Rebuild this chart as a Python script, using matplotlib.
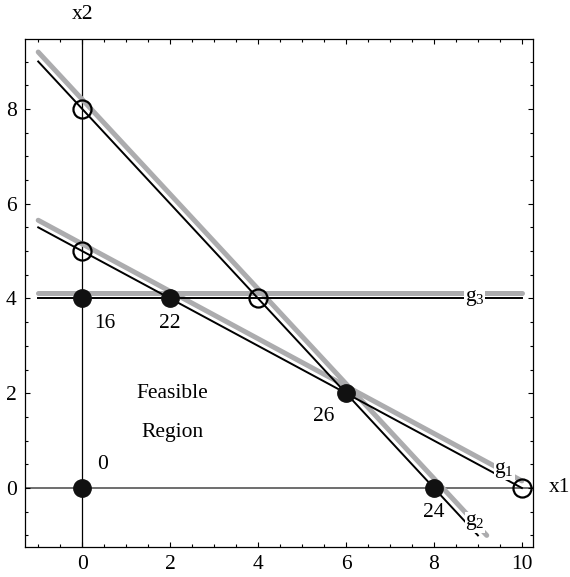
import matplotlib
matplotlib.use('Agg')
import matplotlib.pyplot as plt
from matplotlib.ticker import MultipleLocator

plt.rcParams['font.family'] = ['Liberation Serif', 'DejaVu Serif']
plt.rcParams['mathtext.fontset'] = 'custom'
plt.rcParams['mathtext.rm'] = 'Liberation Serif'
plt.rcParams['mathtext.it'] = 'Liberation Serif:italic'

# constraint lines (black) and their grey shading, as end points
g1_x = [-1, 10]
g1_y = [5.5, 0]
g1s_x = [-1, 10]
g1s_y = [5.65, 0.15]

g2_x = [-1, 9]
g2_y = [9, -1]
g2s_x = [-1, 9.2]
g2s_y = [9.2, -1]

g3_x = [-1, 10]
g3_y = [4, 4]
g3s_x = [-1, 10]
g3s_y = [4.12, 4.12]

# corner points of the feasible region and their objective values
vert_x = [0, 2, 6, 8, 0]
vert_y = [4, 4, 2, 0, 0]
vert_lab = ['16', '22', '26', '24', '0']

# infeasible intersections
open_x = [0, 0, 4, 10]
open_y = [8, 5, 4, 0]

fig = plt.figure(figsize=(5.7, 5.77), dpi=100)
ax = fig.add_axes([0.0439, 0.052, 0.891, 0.880])

fs = 15.5
grey = '#acacae'
ax.axhline(0, color='#555555', lw=1.2, zorder=1)
ax.axvline(0, color='black', lw=0.9, zorder=1)

for xs, ys in [(g1s_x, g1s_y), (g2s_x, g2s_y), (g3s_x, g3s_y)]:
    ax.plot(xs, ys, color=grey, lw=3.6, solid_capstyle='round', zorder=2)
for xs, ys in [(g1_x, g1_y), (g2_x, g2_y), (g3_x, g3_y)]:
    ax.plot(xs, ys, color='black', lw=1.4, zorder=3)

ax.plot(vert_x, vert_y, 'o', color='#111111', ms=12.5, ls='none', zorder=5)
ax.plot(open_x, open_y, 'o', mfc='none', mec='black', mew=1.6, ms=13,
        ls='none', zorder=5)

offsets = {'16': (16, -18), '22': (0, -18), '26': (-16, -17),
           '24': (0, -18), '0': (15, 17)}
for x, y, lab in zip(vert_x, vert_y, vert_lab):
    ax.annotate(lab, (x, y), xytext=offsets[lab], textcoords='offset points',
                ha='center', va='center', fontsize=fs)

box = dict(facecolor='white', edgecolor='none', pad=0.3)
ax.text(9.6, 0.38, r'g$_1$', fontsize=fs, ha='center', va='center', bbox=box, zorder=4)
ax.text(8.93, -0.72, r'g$_2$', fontsize=fs, ha='center', va='center', bbox=box, zorder=4)
ax.text(8.93, 4.0, r'g$_3$', fontsize=fs, ha='center', va='center', bbox=box, zorder=4)

ax.text(2.05, 2.0, 'Feasible', fontsize=fs, ha='center', va='center')
ax.text(2.05, 1.18, 'Region', fontsize=fs, ha='center', va='center')

ax.text(0, 10.0, 'x2', fontsize=fs, ha='center', va='center', clip_on=False)
ax.text(10.86, 0, 'x1', fontsize=fs, ha='center', va='center', clip_on=False)

ax.set_xlim(-1.3, 10.25)
ax.set_ylim(-1.245, 9.47)
ax.xaxis.set_major_locator(MultipleLocator(2))
ax.xaxis.set_minor_locator(MultipleLocator(0.5))
ax.yaxis.set_major_locator(MultipleLocator(2))
ax.yaxis.set_minor_locator(MultipleLocator(0.5))
ax.tick_params(which='both', direction='in', top=True, right=True,
               labelsize=fs, width=0.8)
ax.tick_params(which='major', length=3.5, pad=6)
ax.tick_params(which='minor', length=2)
for s in ax.spines.values():
    s.set_linewidth(0.9)

fig.savefig('out.png', dpi=100)
